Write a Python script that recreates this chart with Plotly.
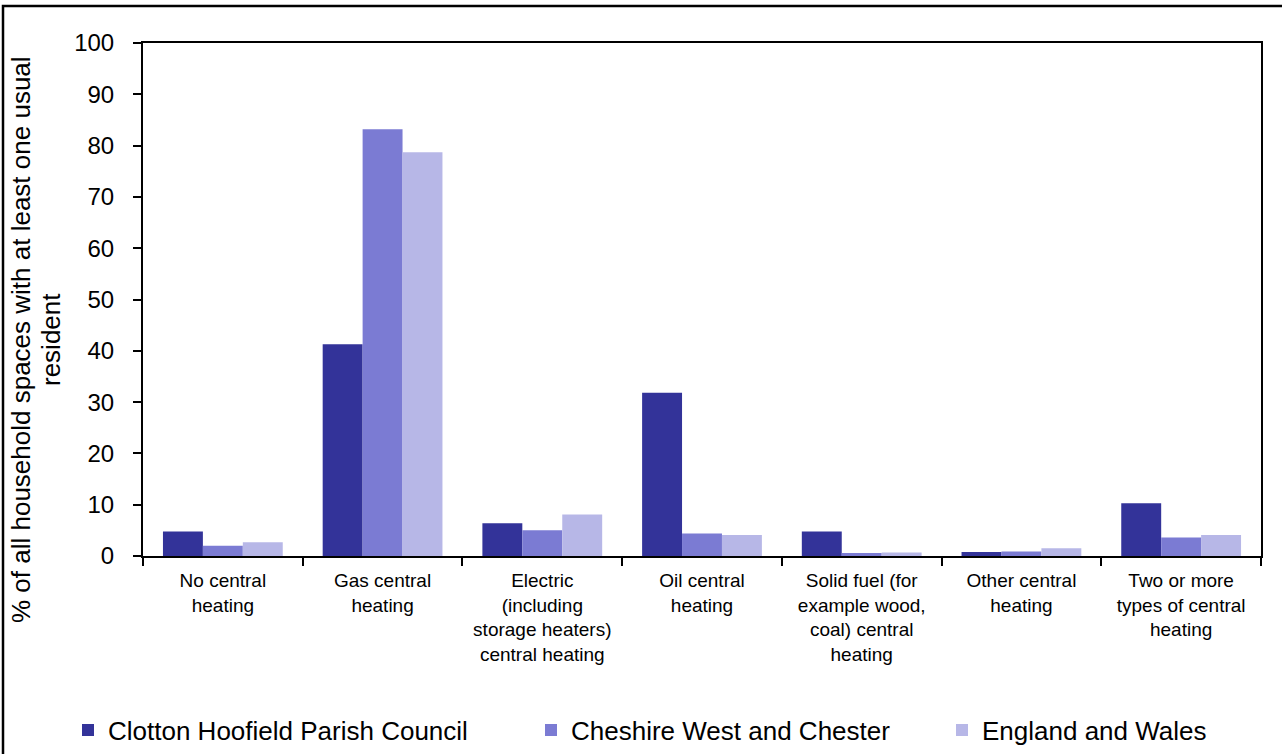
import plotly.graph_objects as go

categories = [
    "No central<br>heating",
    "Gas central<br>heating",
    "Electric<br>(including<br>storage heaters)<br>central heating",
    "Oil central<br>heating",
    "Solid fuel (for<br>example wood,<br>coal) central<br>heating",
    "Other central<br>heating",
    "Two or more<br>types of central<br>heating",
]
series_names = ["Clotton Hoofield Parish Council", "Cheshire West and Chester", "England and Wales"]
clotton = [4.8, 41.3, 6.4, 31.8, 4.8, 0.8, 10.3]
cheshire = [2.0, 83.2, 5.0, 4.4, 0.6, 0.9, 3.6]
england = [2.7, 78.7, 8.1, 4.1, 0.7, 1.5, 4.1]
colors = ["#333399", "#7B7BD3", "#B7B7E7"]
y_ticks = [0, 10, 20, 30, 40, 50, 60, 70, 80, 90, 100]
y_title_lines = ["% of all household spaces with at least one usual", "resident"]

W, H = 1282, 754
L, R, T, B = 143, 1261, 43, 556

def px(x):
    return (x - L) / (R - L)

def py(y):
    return (B - y) / (B - T)

fig = go.Figure()
legend_names = ["legend", "legend2", "legend3"]
for name, vals, col, lg in zip(series_names, [clotton, cheshire, england], colors, legend_names):
    fig.add_trace(go.Bar(x=categories, y=vals, name=name, marker=dict(color=col, line=dict(width=0)),
                         legend=lg))

font = "Liberation Sans, Arial, sans-serif"
leg_common = dict(orientation="h", xanchor="left", yanchor="middle", bgcolor="rgba(0,0,0,0)",
                  font=dict(family=font, size=26, color="black"), itemwidth=30,
                  xref="container", yref="container")
leg_x = [68, 531, 942]
leg_y = 1 - 730 / H
fig.update_layout(
    width=W, height=H,
    margin=dict(l=L, r=W - R, t=T, b=H - B),
    paper_bgcolor="white", plot_bgcolor="white",
    barmode="group", bargap=0.25, bargroupgap=0,
    font=dict(family=font, color="black"),
    showlegend=True,
    legend=dict(x=leg_x[0] / W, y=leg_y, **leg_common),
    legend2=dict(x=leg_x[1] / W, y=leg_y, **leg_common),
    legend3=dict(x=leg_x[2] / W, y=leg_y, **leg_common),
    xaxis=dict(
        type="category", tickson="boundaries", ticks="outside", ticklen=8, tickwidth=2, tickcolor="black",
        showline=True, linecolor="black", linewidth=2, mirror=True, showgrid=False, automargin=False,
        tickfont=dict(family=font, size=19, color="black"), tickangle=0, ticklabelstandoff=6,
    ),
    yaxis=dict(
        range=[0, 100], tickvals=y_ticks, ticks="outside", ticklen=8, tickwidth=2, tickcolor="black",
        showline=True, linecolor="black", linewidth=2, mirror=True, showgrid=False, zeroline=False,
        automargin=False,
        tickfont=dict(family=font, size=24, color="black"), ticklabelstandoff=14,
    ),
    annotations=[
        dict(text=y_title_lines[0], xref="paper", yref="paper", x=px(21), y=py(340), textangle=-90,
             showarrow=False, xanchor="center", yanchor="middle",
             font=dict(family=font, size=26, color="black")),
        dict(text=y_title_lines[1], xref="paper", yref="paper", x=px(51), y=py(340), textangle=-90,
             showarrow=False, xanchor="center", yanchor="middle",
             font=dict(family=font, size=26, color="black")),
    ],
    shapes=[
        dict(type="rect", xref="paper", yref="paper", x0=px(3), x1=px(1300), y0=py(800), y1=py(6),
             line=dict(color="black", width=2.5), fillcolor="rgba(0,0,0,0)", layer="above"),
    ],
)

fig.write_html("out.html", post_script="document.body.style.margin='0px';",
               config={"displayModeBar": False})
